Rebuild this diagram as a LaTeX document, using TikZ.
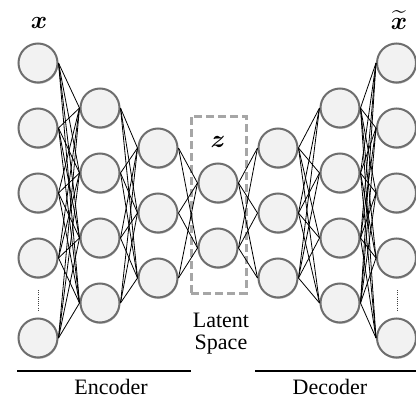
\documentclass[tikz,border=0pt]{standalone}
\usepackage{amsmath}
\usepackage{fontspec}
\setmainfont{Liberation Serif}
\usetikzlibrary{shadows}
\definecolor{nodefill}{HTML}{F2F2F2}
\definecolor{nodeedge}{HTML}{6E6E6E}
\definecolor{boxgray}{HTML}{A6A6A6}
\begin{document}
\begin{tikzpicture}[x=1pt,y=-1pt,
  neuron/.style={circle,draw=nodeedge,fill=nodefill,line width=2pt,minimum size=39pt,inner sep=0pt,
    drop shadow={shadow xshift=0.6pt,shadow yshift=-1.4pt,fill=black,opacity=0.25}},
  link/.style={draw=black,line width=0.8pt},
  caption/.style={font=\fontsize{22}{24}\selectfont,inner sep=0pt},
  varlabel/.style={font=\fontsize{26}{30}\selectfont,inner sep=0pt},
  dotsline/.style={draw=black!75,line width=1pt,dash pattern=on 1pt off 1.2pt},
  sectionline/.style={draw=black,line width=1.6pt}]
\useasboundingbox (0,0) rectangle (416,399);
% latent box
\node[draw=boxgray,line width=3pt,dash pattern=on 8pt off 4pt,minimum width=55pt,minimum height=177pt,inner sep=0pt] (box) at (218.5,204.5) {};
% columns
\foreach \y [count=\i] in {63,128,193,258,338} \node[neuron] (a\i) at (38,\y) {};
\foreach \y [count=\i] in {108,173,238,303} \node[neuron] (b\i) at (100,\y) {};
\foreach \y [count=\i] in {148,213,278} \node[neuron] (c\i) at (158,\y) {};
\foreach \y [count=\i] in {183,248} \node[neuron] (z\i) at (218,\y) {};
\foreach \y [count=\i] in {148,213,278} \node[neuron] (d\i) at (278,\y) {};
\foreach \y [count=\i] in {108,173,238,303} \node[neuron] (e\i) at (340,\y) {};
\foreach \y [count=\i] in {63,128,193,258,338} \node[neuron] (f\i) at (396.5,\y) {};
% links
\foreach \i in {1,...,5} \foreach \j in {1,...,4} \draw[link] (a\i.east) -- (b\j.west);
\foreach \i in {1,...,4} \foreach \j in {1,...,3} \draw[link] (b\i.east) -- (c\j.west);
\foreach \i in {1,...,3} \foreach \j in {1,2} \draw[link] (c\i.east) -- (z\j.west);
\foreach \i in {1,2} \foreach \j in {1,...,3} \draw[link] (z\i.east) -- (d\j.west);
\foreach \i in {1,...,3} \foreach \j in {1,...,4} \draw[link] (d\i.east) -- (e\j.west);
\foreach \i in {1,...,4} \foreach \j in {1,...,5} \draw[link] (e\i.east) -- (f\j.west);
% dots
\coordinate (da1) at (38.5,290); \coordinate (da2) at (38.5,310);
\coordinate (df1) at (397,290); \coordinate (df2) at (397,310);
\draw[dotsline] (da1) -- (da2);
\draw[dotsline] (df1) -- (df2);
% labels
\node[varlabel] (lx) at (39,23) {$\boldsymbol{x}$};
\node[varlabel] (lxt) at (399,20) {$\widetilde{\boldsymbol{x}}$};
\node[varlabel] (lz) at (218,142) {$\boldsymbol{z}$};
\node[caption,align=center] (lat) at (221,334) {Latent\\[-2pt]Space};
% encoder / decoder
\coordinate (enc1) at (17,371); \coordinate (enc2) at (191,371);
\coordinate (dec1) at (255,371); \coordinate (dec2) at (416,371);
\draw[sectionline] (enc1) -- (enc2);
\draw[sectionline] (dec1) -- (dec2);
\node[caption] (encl) at (111,387) {Encoder};
\node[caption] (decl) at (330,387) {Decoder};
\end{tikzpicture}
\end{document}
